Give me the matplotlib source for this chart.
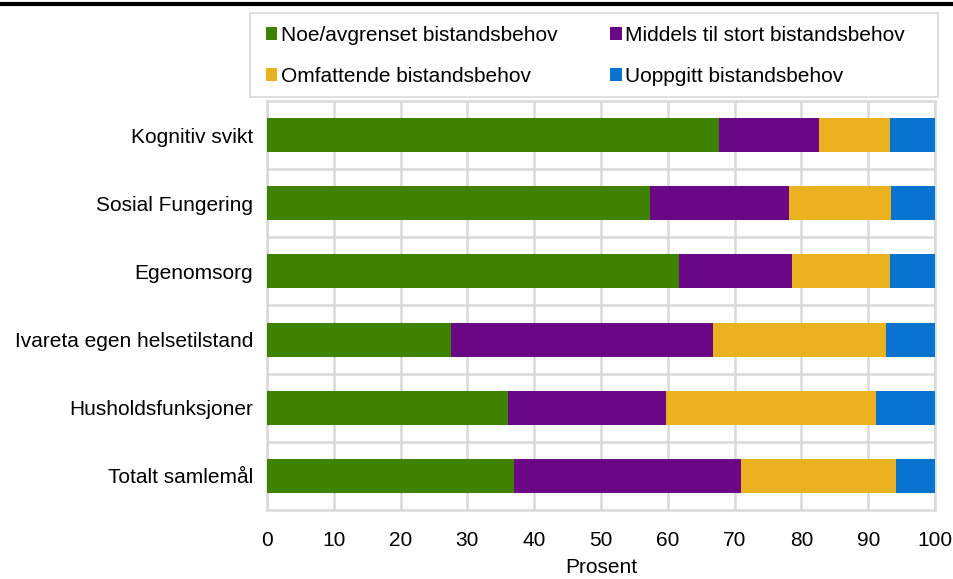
import numpy as np
import matplotlib
matplotlib.use('Agg')
import matplotlib.pyplot as plt
from matplotlib.lines import Line2D
from matplotlib.patches import Rectangle

plt.rcParams['font.family'] = ['Liberation Sans', 'DejaVu Sans']

# ======================================
# Data (percent)
# ======================================
categories = ['Kognitiv svikt', 'Sosial Fungering', 'Egenomsorg',
              'Ivareta egen helsetilstand', 'Husholdsfunksjoner', 'Totalt samlemål']
noe        = [67.7, 57.4, 61.6, 27.6, 36.0, 36.9]
middels    = [14.9, 20.8, 17.0, 39.2, 23.8, 34.0]
omfattende = [10.7, 15.2, 14.7, 25.9, 31.4, 23.3]
uoppgitt   = [6.7, 6.6, 6.7, 7.3, 8.8, 5.8]

series = [('Noe/avgrenset bistandsbehov', noe, '#3f8200'),
          ('Middels til stort bistandsbehov', middels, '#6a0787'),
          ('Omfattende bistandsbehov', omfattende, '#ebb220'),
          ('Uoppgitt bistandsbehov', uoppgitt, '#0874d0')]

grid_col = '#d9d9d9'
fs = 15

fig = plt.figure(figsize=(9.54, 5.79), dpi=100)
ax = fig.add_axes([0.2799, 0.1192, 0.7002, 0.7064])

y = np.arange(len(categories))
left = np.zeros(len(categories))
handles = []
for name, vals, col in series:
    b = ax.barh(y, vals, left=left, height=0.5, color=col, label=name, zorder=3)
    handles.append(b)
    left = left + np.array(vals)

ax.set_xlim(0, 100)
ax.set_ylim(len(categories) - 0.5, -0.5)
ax.set_xticks(np.arange(0, 101, 10))
ax.set_yticks(y)
ax.set_yticklabels(categories)
ax.tick_params(axis='both', length=0, labelsize=fs)
ax.tick_params(axis='x', pad=15)
ax.tick_params(axis='y', pad=10)

ax.grid(axis='x', color=grid_col, linewidth=1.8, zorder=0)
for yb in np.arange(0.5, len(categories) - 0.5, 1):
    ax.axhline(yb, color=grid_col, linewidth=1.8, zorder=0)
for s in ax.spines.values():
    s.set_color(grid_col)
    s.set_linewidth(1.8)

ax.set_xlabel('Prosent', fontsize=fs, labelpad=6)

# legend: two rows, framed box drawn separately
order = [0, 2, 1, 3]
leg = fig.legend([handles[i] for i in order], [series[i][0] for i in order],
                 ncol=2, loc='upper left', bbox_to_anchor=(0.2788, 0.955),
                 fontsize=fs, frameon=False,
                 handlelength=0.55, handleheight=0.55, handletextpad=0.15,
                 columnspacing=2.55, labelspacing=1.05, borderpad=0,
                 borderaxespad=0)
fig.add_artist(Rectangle((0.262, 0.8325), 0.721, 0.145, transform=fig.transFigure,
                         facecolor='none', edgecolor=grid_col, linewidth=1.2))

fig.add_artist(Line2D([0, 1], [0.993, 0.993], color='black', linewidth=3,
                      transform=fig.transFigure))

fig.savefig('out.png', dpi=100)
